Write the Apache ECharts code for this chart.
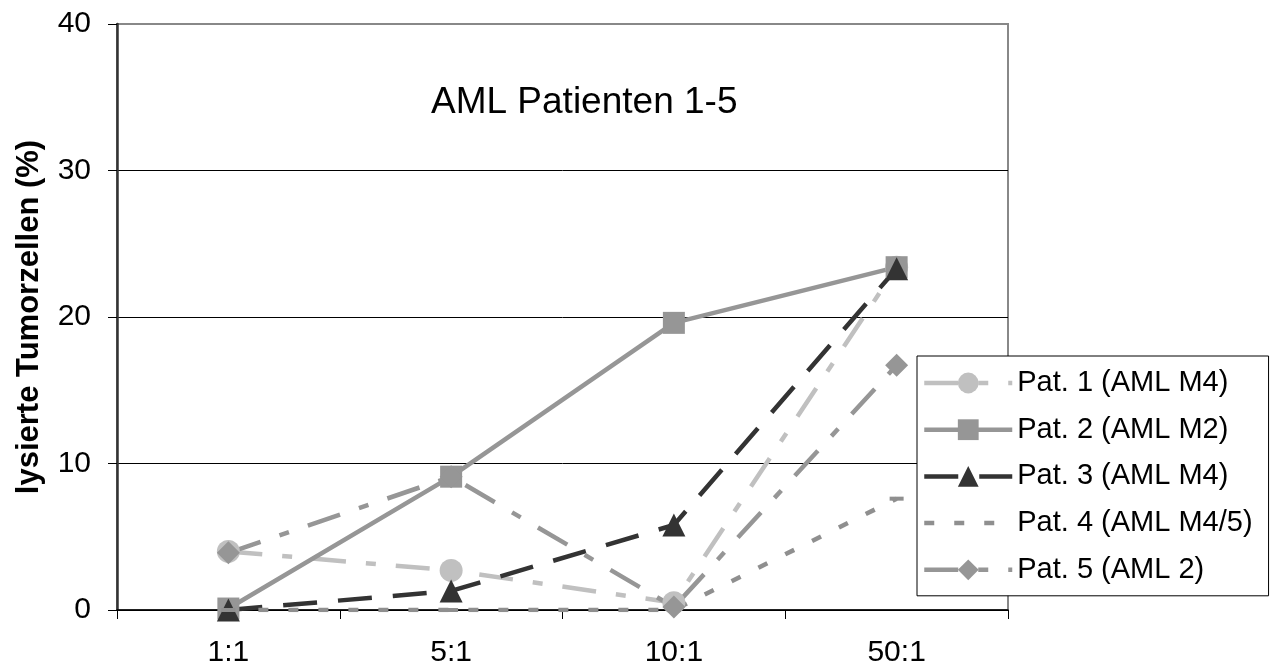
<!DOCTYPE html>
<html>
<head>
<meta charset="utf-8">
<script src="https://cdn.jsdelivr.net/npm/echarts@6/dist/echarts.min.js"></script>
<style>
  html, body { margin: 0; padding: 0; background: #fff; }
  #chart { width: 1274px; height: 668px; }
</style>
</head>
<body>
<div id="chart"></div>
<script>
// Effector:target ratios on the x axis
const ratios = ['1:1', '5:1', '10:1', '50:1'];
const yTicks = [0, 10, 20, 30, 40];

// Lysed tumour cells (%) per patient
const pat1 = [4.0, 2.7, 0.5, 23.4];
const pat2 = [0.1, 9.1, 19.6, 23.4];
const pat3 = [0.0, 1.3, 5.8, 23.3];
const pat4 = [0.0, 0.0, 0.0, 7.6];
const pat5 = [3.9, 9.1, 0.2, 16.7];

const seriesNames = [
  'Pat. 1 (AML M4)',
  'Pat. 2 (AML M2)',
  'Pat. 3 (AML M4)',
  'Pat. 4 (AML M4/5)',
  'Pat. 5 (AML 2)'
];

const FONT = '"Liberation Sans", Arial, sans-serif';
const DASH_MARK = 'path://M0 0H14V4H0Z';

function lineSeries(name, data, color, dash, symbol, size, extra) {
  return Object.assign({
    name: name,
    type: 'line',
    data: data,
    symbol: symbol,
    symbolSize: size,
    showAllSymbol: true,
    color: color,
    lineStyle: { color: color, width: 4.5, type: dash, cap: 'butt' },
    itemStyle: { color: color, borderWidth: 0 },
    emphasis: { disabled: true },
    animation: false
  }, extra || {});
}

// Pat. 4 uses a flat dash as its marker; in the legend only its dashed line is shown
const legendItems = seriesNames.map(function (n, i) {
  return i === 3 ? { name: n, itemStyle: { opacity: 0 } } : { name: n };
});

const chart = echarts.init(document.getElementById('chart'), null, { renderer: 'canvas' });

chart.setOption({
  backgroundColor: '#ffffff',
  animation: false,
  textStyle: { fontFamily: FONT },
  title: {
    text: 'AML Patienten 1-5',
    left: 431,
    top: 84,
    padding: 0,
    textStyle: { fontFamily: FONT, fontSize: 37, fontWeight: 'normal', color: '#000' }
  },
  grid: {
    left: 117, top: 24, width: 891, height: 587,
    show: true, borderColor: '#888', borderWidth: 2, backgroundColor: '#fff'
  },
  legend: {
    orient: 'vertical',
    left: 917, top: 356,
    padding: [12, 16, 11, 5],
    itemWidth: 88, itemHeight: 26, itemGap: 16.7,
    backgroundColor: '#fff',
    borderColor: '#000', borderWidth: 1,
    selectedMode: false,
    lineStyle: { width: 4.5 },
    data: legendItems,
    textStyle: { fontFamily: FONT, fontSize: 29, color: '#000', lineHeight: 30 }
  },
  xAxis: {
    type: 'category',
    data: ratios,
    boundaryGap: true,
    axisLine: { lineStyle: { color: '#000', width: 1.5 } },
    axisTick: { show: true, inside: false, length: 9, interval: 0, lineStyle: { color: '#000', width: 1 } },
    axisLabel: { margin: 28, fontSize: 30, color: '#000', fontFamily: FONT },
    splitLine: { show: false }
  },
  yAxis: {
    type: 'value',
    min: yTicks[0], max: yTicks[yTicks.length - 1], interval: 10,
    name: 'lysierte Tumorzellen (%)',
    nameLocation: 'middle',
    nameGap: 72,
    nameTextStyle: { fontFamily: FONT, fontSize: 31, fontWeight: 'bold', color: '#000' },
    axisLine: { show: true, lineStyle: { color: '#333', width: 2.5 } },
    axisTick: { show: true, inside: false, length: 9, lineStyle: { color: '#000', width: 1 } },
    axisLabel: { margin: 26, fontSize: 30, color: '#000', fontFamily: FONT },
    splitLine: { show: true, lineStyle: { color: ['#000', '#000', '#000', '#000', '#888'], width: 1 } }
  },
  series: [
    lineSeries(seriesNames[0], pat1, '#c0c0c0', [34, 20, 10, 20], 'circle', 23),
    lineSeries(seriesNames[1], pat2, '#969696', 'solid', 'rect', 22),
    lineSeries(seriesNames[2], pat3, '#333333', [34, 21], 'triangle', 23),
    lineSeries(seriesNames[3], pat4, '#8f8f8f', [10, 20], DASH_MARK, 14, { symbolKeepAspect: true }),
    lineSeries(seriesNames[4], pat5, '#969696', [34, 20, 10, 20], 'diamond', 23)
  ]
});
</script>
</body>
</html>
